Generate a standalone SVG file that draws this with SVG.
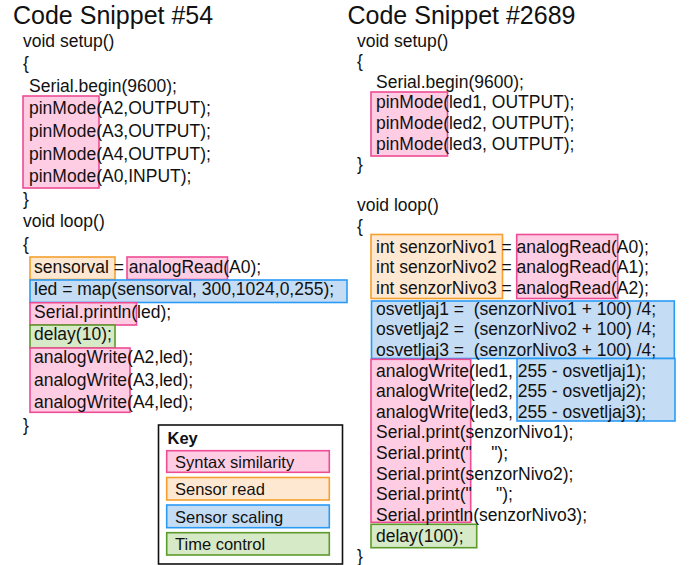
<svg xmlns="http://www.w3.org/2000/svg" width="689" height="565" viewBox="0 0 689 565">
<style>
text{font-family:"Liberation Sans",Arial,Helvetica,sans-serif;fill:#111;white-space:pre}
.t{font-size:25px}
.c{font-size:17.5px}
.k{font-size:16.5px}
.kb{font-size:16.5px;font-weight:bold}
.pk{fill:#FFCDE3;stroke:#EE4C94;stroke-width:1.6}
.or{fill:#FFE8D2;stroke:#F5A02E;stroke-width:1.6}
.bl{fill:#C5DCF5;stroke:#2A9BF5;stroke-width:1.6}
.gr{fill:#D6EAC7;stroke:#5C9A2A;stroke-width:1.6}
</style>
<rect width="689" height="565" fill="#fff"/>
<g id="snippet54">
<text class="t" x="13" y="24">Code Snippet #54</text>
<g id="hl-left">
<rect class="pk" x="23" y="96" width="76" height="92"/>
<rect class="or" x="30" y="257" width="85" height="22.5"/>
<rect class="pk" x="127" y="257" width="100.5" height="22.5"/>
<rect class="bl" x="30" y="280" width="317" height="22.5"/>
<rect class="pk" x="30" y="302.7" width="106.5" height="22.3"/>
<rect class="gr" x="30" y="325" width="85" height="23"/>
<rect class="pk" x="30" y="348" width="100" height="64.3"/>
</g>
<text class="c" x="23" y="46.5">void setup()</text>
<text class="c" x="23" y="69.1">{</text>
<text class="c" x="29" y="91.7">Serial.begin(9600);</text>
<text class="c" x="29" y="114.3">pinMode(A2,OUTPUT);</text>
<text class="c" x="29" y="136.9">pinMode(A3,OUTPUT);</text>
<text class="c" x="29" y="159.5">pinMode(A4,OUTPUT);</text>
<text class="c" x="29" y="182.1">pinMode(A0,INPUT);</text>
<text class="c" x="23" y="204.7">}</text>
<text class="c" x="23" y="227.3">void loop()</text>
<text class="c" x="23" y="249.9">{</text>
<text class="c" x="34" y="272.5">sensorval = analogRead(A0);</text>
<text class="c" x="34" y="295.1">led = map(sensorval, 300,1024,0,255);</text>
<text class="c" x="34" y="317.7">Serial.println(led);</text>
<text class="c" x="34" y="340.3">delay(10);</text>
<text class="c" x="34" y="362.9">analogWrite(A2,led);</text>
<text class="c" x="34" y="385.5">analogWrite(A3,led);</text>
<text class="c" x="34" y="408.1">analogWrite(A4,led);</text>
<text class="c" x="23" y="430.7">}</text>
</g>
<g id="snippet2689">
<text class="t" x="347.5" y="24">Code Snippet #2689</text>
<g id="hl-right">
<rect class="pk" x="371" y="92" width="76.5" height="64"/>
<rect class="or" x="371" y="234.5" width="131.5" height="64"/>
<rect class="pk" x="516.7" y="234.5" width="101" height="64"/>
<rect class="bl" x="371.5" y="301" width="302.8" height="57.5"/>
<rect class="pk" x="371" y="359.3" width="99.7" height="163"/>
<rect class="bl" x="517" y="358.5" width="158" height="62.5"/>
<rect class="gr" x="371" y="524.3" width="105.7" height="23.4"/>
</g>
<text class="c" x="357" y="46.5">void setup()</text>
<text class="c" x="357" y="67.1">{</text>
<text class="c" x="376" y="87.7">Serial.begin(9600);</text>
<text class="c" x="376" y="108.3">pinMode(led1, OUTPUT);</text>
<text class="c" x="376" y="129">pinMode(led2, OUTPUT);</text>
<text class="c" x="376" y="149.6">pinMode(led3, OUTPUT);</text>
<text class="c" x="357" y="170.2">}</text>
<text class="c" x="357" y="211.4">void loop()</text>
<text class="c" x="357" y="232">{</text>
<text class="c" x="376" y="252.7">int senzorNivo1 = analogRead(A0);</text>
<text class="c" x="376" y="273.3">int senzorNivo2 = analogRead(A1);</text>
<text class="c" x="376" y="294">int senzorNivo3 = analogRead(A2);</text>
<text class="c" x="376" y="314.6">osvetljaj1 =  (senzorNivo1 + 100) /4;</text>
<text class="c" x="376" y="335.2">osvetljaj2 =  (senzorNivo2 + 100) /4;</text>
<text class="c" x="376" y="355.9">osvetljaj3 =  (senzorNivo3 + 100) /4;</text>
<text class="c" x="376" y="376.5">analogWrite(led1, 255 - osvetljaj1);</text>
<text class="c" x="376" y="397.2">analogWrite(led2, 255 - osvetljaj2);</text>
<text class="c" x="376" y="417.8">analogWrite(led3, 255 - osvetljaj3);</text>
<text class="c" x="376" y="438.4">Serial.print(senzorNivo1);</text>
<text class="c" x="376" y="459">Serial.print("    ");</text>
<text class="c" x="376" y="479.7">Serial.print(senzorNivo2);</text>
<text class="c" x="376" y="500.3">Serial.print("     ");</text>
<text class="c" x="376" y="521">Serial.println(senzorNivo3);</text>
<text class="c" x="376" y="541.6">delay(100);</text>
<text class="c" x="357" y="562.2">}</text>
</g>
<g id="key">
<rect x="158.5" y="425" width="184" height="139" fill="#fff" stroke="#111" stroke-width="1.6"/>
<text class="kb" x="167.5" y="443.5">Key</text>
<g id="key-syntax"><rect class="pk" x="166.7" y="450.7" width="162.6" height="21.6"/><text class="k" x="175" y="467.5">Syntax similarity</text></g>
<g id="key-read"><rect class="or" x="166.7" y="477.5" width="162.6" height="22.5"/><text class="k" x="175" y="495">Sensor read</text></g>
<g id="key-scaling"><rect class="bl" x="166.7" y="505" width="162.6" height="22.7"/><text class="k" x="175" y="522.7">Sensor scaling</text></g>
<g id="key-time"><rect class="gr" x="166.7" y="532.7" width="162.6" height="22.3"/><text class="k" x="175" y="550">Time control</text></g>
</g>
</svg>
